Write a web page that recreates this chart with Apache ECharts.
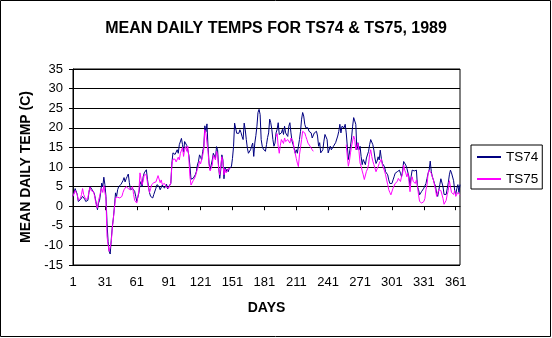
<!DOCTYPE html>
<html>
<head>
<meta charset="utf-8">
<script src="https://cdn.jsdelivr.net/npm/echarts@6/dist/echarts.min.js"></script>
<style>
html,body{margin:0;padding:0;background:#fff;}
#chart{width:552px;height:338px;}
</style>
</head>
<body>
<div id="chart"></div>
<script>
const titleText = 'MEAN DAILY TEMPS FOR TS74 & TS75, 1989';
const xName = 'DAYS';
const yName = 'MEAN DAILY TEMP (C)';
const seriesNames = ['TS74', 'TS75'];
const days = Array.from({length: 365}, (_, i) => String(i + 1));

const ts74 = [
  2.5, 2.0, 4.5, 5.0, 3.0, 1.2, 1.0, 1.7, 1.3, 2.5,
  2.2, 1.8, 1.2, 0.8, 1.5, 3.5, 5.0, 4.6, 4.2, 4.5,
  3.3, 2.0, 0.5, -0.9, 0.8, 1.5, 3.4, 5.9, 5.0, 7.4,
  5.5, 2.5, -4.3, -9.0, -11.5, -12.2, -8.5, -5.2, -3.0, 0.0,
  3.4, 2.5, 4.2, 5.0, 5.0, 5.5, 6.0, 6.5, 7.3, 6.2,
  7.0, 7.6, 8.2, 6.0, 4.2, 4.0, 4.5, 4.6, 3.8, 2.5,
  1.2, 1.0, 3.4, 5.5, 6.3, 5.0, 7.5, 8.5, 8.0, 9.3,
  6.9, 5.0, 3.4, 2.5, 2.0, 2.1, 3.0, 2.5, 4.6, 5.5,
  6.0, 5.0, 4.2, 4.6, 5.4, 5.0, 4.6, 5.0, 5.6, 4.4,
  5.0, 5.2, 5.8, 11.0, 13.6, 14.0, 13.2, 13.8, 14.4, 13.5,
  15.7, 16.2, 17.3, 15.7, 13.8, 16.5, 17.0, 15.5, 16.0, 13.0,
  10.2, 6.9, 6.5, 7.1, 7.6, 8.0, 8.8, 10.5, 11.4, 13.1,
  12.5, 11.8, 14.0, 15.2, 20.5, 19.0, 21.0, 15.2, 11.0, 9.3,
  9.7, 11.8, 13.5, 14.0, 12.2, 15.2, 14.4, 10.0, 7.1, 9.3,
  13.1, 11.8, 7.0, 10.0, 8.8, 9.5, 8.8, 9.7, 9.3, 10.1,
  12.2, 15.2, 21.2, 20.7, 18.6, 19.0, 18.6, 19.5, 18.8, 17.8,
  17.0, 21.2, 19.5, 17.0, 14.8, 13.5, 13.5, 14.4, 15.3, 16.1,
  12.7, 16.1, 18.0, 20.4, 23.9, 24.7, 23.4, 17.0, 15.3, 14.6,
  14.8, 14.0, 15.7, 17.5, 18.7, 22.2, 21.3, 19.6, 17.0, 15.3,
  16.1, 18.7, 19.6, 21.3, 18.3, 17.8, 18.7, 19.6, 18.3, 20.4,
  18.7, 19.1, 17.8, 20.4, 21.3, 18.7, 16.6, 15.7, 14.8, 13.5,
  14.4, 13.5, 15.3, 17.0, 19.1, 22.2, 23.9, 23.0, 20.9, 20.0,
  19.6, 20.0, 19.1, 19.1, 18.7, 17.4, 17.4, 18.7, 19.0, 19.1,
  17.9, 15.3, 16.2, 13.6, 13.2, 14.4, 16.6, 18.3, 18.7, 17.0,
  13.6, 14.0, 15.3, 14.4, 14.0, 15.3, 15.8, 16.2, 16.6, 17.9,
  19.1, 20.9, 18.7, 20.4, 20.9, 20.0, 20.9, 18.7, 15.3, 11.9,
  13.6, 15.3, 17.4, 20.4, 22.6, 22.1, 20.9, 14.4, 16.2, 14.4,
  15.3, 12.7, 10.6, 11.9, 12.3, 10.6, 12.3, 11.9, 14.0, 15.7,
  17.0, 16.5, 15.7, 14.3, 12.3, 10.9, 11.5, 12.6, 11.8, 14.3,
  12.2, 10.9, 11.4, 10.1, 8.8, 8.4, 8.0, 6.7, 5.8, 6.3,
  5.8, 6.7, 7.5, 8.4, 8.6, 8.8, 8.4, 9.2, 8.4, 7.5,
  9.0, 11.4, 11.8, 10.5, 9.7, 10.1, 7.5, 5.0, 7.5, 9.2,
  9.2, 9.0, 8.8, 9.2, 5.0, 4.2, 2.9, 3.3, 3.8, 4.2,
  4.6, 5.0, 5.8, 7.1, 8.4, 9.2, 11.5, 8.8, 7.5, 6.7,
  5.8, 5.0, 3.3, 2.5, 4.0, 5.5, 7.0, 6.5, 5.0, 3.0,
  2.5, 3.0, 4.5, 6.0, 8.0, 9.2, 8.5, 9.0, 6.5, 4.0,
  3.0, 4.5, 5.5, 3.5, 5.5
];

const ts75 = [
  2.5, 2.2, 4.0, 4.5, 2.9, 1.5, 1.2, 2.0, 3.0, 4.5,
  3.0, 2.5, 1.7, 1.5, 2.0, 3.8, 4.8, 4.0, 4.0, 3.8,
  3.0, 1.5, 0.2, -0.5, 1.5, 2.5, 3.8, 4.5, 3.5, 5.2,
  5.6, 2.0, -7.7, -9.8, -11.5, -10.5, -9.0, -5.5, -3.0, -2.5,
  2.1, 2.5, 2.3, 2.0, 2.1, 1.8, 2.5, 3.5, 4.2, 4.5,
  5.0, 4.8, 4.5, 4.0, 4.2, 4.5, 5.0, 3.0, 1.5, 1.0,
  0.8, 0.6, 4.0, 8.5, 8.0, 5.5, 6.5, 8.0, 8.5, 8.0,
  6.0, 5.5, 3.5, 4.5, 5.5, 5.8, 6.0, 5.5, 6.2, 6.5,
  7.8, 7.5, 6.0, 6.7, 5.5, 5.0, 5.8, 5.5, 4.8, 5.0,
  4.6, 5.0, 6.0, 10.5, 12.0, 11.5, 12.0, 11.3, 11.8, 12.5,
  11.8, 13.5, 14.0, 15.0, 12.7, 14.5, 15.2, 14.0, 15.3, 12.0,
  7.5, 5.4, 5.8, 6.5, 7.0, 7.5, 8.5, 9.5, 10.1, 11.5,
  10.8, 11.0, 13.0, 14.5, 19.5, 18.5, 19.0, 14.0, 10.5, 9.0,
  8.8, 10.5, 13.0, 13.5, 11.8, 14.0, 13.0, 9.5, 8.0, 8.5,
  12.6, 11.0, 8.0, 9.5, 8.5, 9.0, 9.5, 9.0, 9.6, null,
  null, null, null, null, null, null, null, null, null, null,
  null, null, null, null, null, null, null, null, null, null,
  null, null, null, null, null, null, null, null, null, null,
  null, null, null, null, null, null, null, null, null, null,
  null, 17.8, 18.5, 15.3, 13.5, 15.5, 17.0, 16.6, 16.0, 17.4,
  16.5, 16.1, 17.0, 16.5, 16.1, 17.4, 17.0, 16.6, 14.5, 13.5,
  12.2, 11.0, 10.1, 13.1, 15.0, 17.0, 19.1, 19.5, 18.7, 17.8,
  17.0, 16.1, 15.7, 15.3, 14.8, 14.4, 14.0, null, null, null,
  null, null, null, null, null, null, null, null, null, null,
  null, null, null, null, null, null, null, null, null, null,
  null, null, null, null, null, null, null, 15.7, 12.7, 10.2,
  11.5, 13.6, 15.3, 16.6, 17.9, 17.0, 14.4, 14.0, 16.1, 14.0,
  11.0, 10.2, 9.0, 8.0, 6.8, 7.2, 8.9, 9.5, 10.6, 13.2,
  14.4, 12.7, 11.5, 10.6, 10.1, 8.8, 9.5, 10.1, 10.9, 10.5,
  12.0, 10.5, 10.1, 9.0, 8.0, 6.7, 5.5, 4.2, 3.5, 2.9,
  3.3, 4.6, 5.0, 5.8, 6.0, 6.3, 7.1, 6.8, 6.3, 7.5,
  8.4, 10.5, 9.2, 8.5, 7.5, 8.4, 6.3, 3.7, 6.7, 7.5,
  6.3, 6.0, 5.8, 6.7, 5.0, 2.9, 1.2, 0.8, 0.8, 0.8,
  1.2, 2.0, 4.2, 5.5, 8.4, 9.2, 9.0, 8.4, 7.5, 6.7,
  5.4, 4.2, 2.5, 2.0, 4.2, 4.0, 4.0, 3.5, 2.0, 0.5,
  0.3, 1.5, 3.0, 4.0, 6.5, 5.0, 3.5, 4.0, 3.0, 4.0,
  2.5, 2.3, 3.5, 3.0, 2.8
];

const FONT = '"Liberation Sans", Arial, sans-serif';
const chart = echarts.init(document.getElementById('chart'), null, {renderer: 'canvas'});
chart.setOption({
  animation: false,
  backgroundColor: '#fff',
  title: {
    text: titleText,
    left: 'center',
    top: 16,
    textStyle: {fontFamily: FONT, fontSize: 16, fontWeight: 'bold', color: '#000'}
  },
  legend: {
    orient: 'vertical',
    left: 471,
    top: 145,
    padding: [5, 4, 3, 5],
    itemWidth: 24,
    itemHeight: 14,
    itemGap: 8,
    borderColor: '#000',
    borderWidth: 1,
    itemStyle: {color: 'rgba(0,0,0,0)', borderColor: 'rgba(0,0,0,0)', borderWidth: 0},
    textStyle: {fontFamily: FONT, fontSize: 13.5, color: '#000'},
    data: seriesNames
  },
  grid: {
    left: 73, top: 69, right: 92, bottom: 73,
    show: true, borderColor: '#000', borderWidth: 1
  },
  xAxis: {
    type: 'category',
    data: days,
    boundaryGap: false,
    name: xName,
    nameLocation: 'middle',
    nameGap: 36,
    nameTextStyle: {fontFamily: FONT, fontSize: 14, fontWeight: 'bold', color: '#000'},
    axisLine: {lineStyle: {color: '#000', width: 1}},
    axisTick: {show: true, interval: 29, length: 4, lineStyle: {color: '#000'}},
    axisLabel: {interval: 29, fontFamily: FONT, fontSize: 13, color: '#000', margin: 11},
    splitLine: {show: false}
  },
  yAxis: {
    type: 'value',
    min: -15, max: 35, interval: 5,
    name: yName,
    nameLocation: 'middle',
    nameRotate: 90,
    nameGap: 39,
    nameTextStyle: {fontFamily: FONT, fontSize: 14, fontWeight: 'bold', color: '#000'},
    axisLine: {show: true, lineStyle: {color: '#000', width: 1}},
    axisTick: {show: true, length: 4, lineStyle: {color: '#000'}},
    axisLabel: {fontFamily: FONT, fontSize: 13, color: '#000', margin: 10},
    splitLine: {show: true, lineStyle: {color: '#000', width: 1}}
  },
  series: [
    {
      name: seriesNames[0], type: 'line', data: ts74, symbol: 'none',
      connectNulls: false, lineStyle: {color: '#000080', width: 1}, itemStyle: {color: '#000080'}
    },
    {
      name: seriesNames[1], type: 'line', data: ts75, symbol: 'none',
      connectNulls: false, lineStyle: {color: '#FF00FF', width: 1}, itemStyle: {color: '#FF00FF'}
    }
  ],
  graphic: [{
    type: 'rect', silent: true, z: 100,
    shape: {x: 0.5, y: 0.5, width: 550, height: 336},
    style: {fill: 'none', stroke: '#000', lineWidth: 1}
  }]
});
</script>
</body>
</html>
